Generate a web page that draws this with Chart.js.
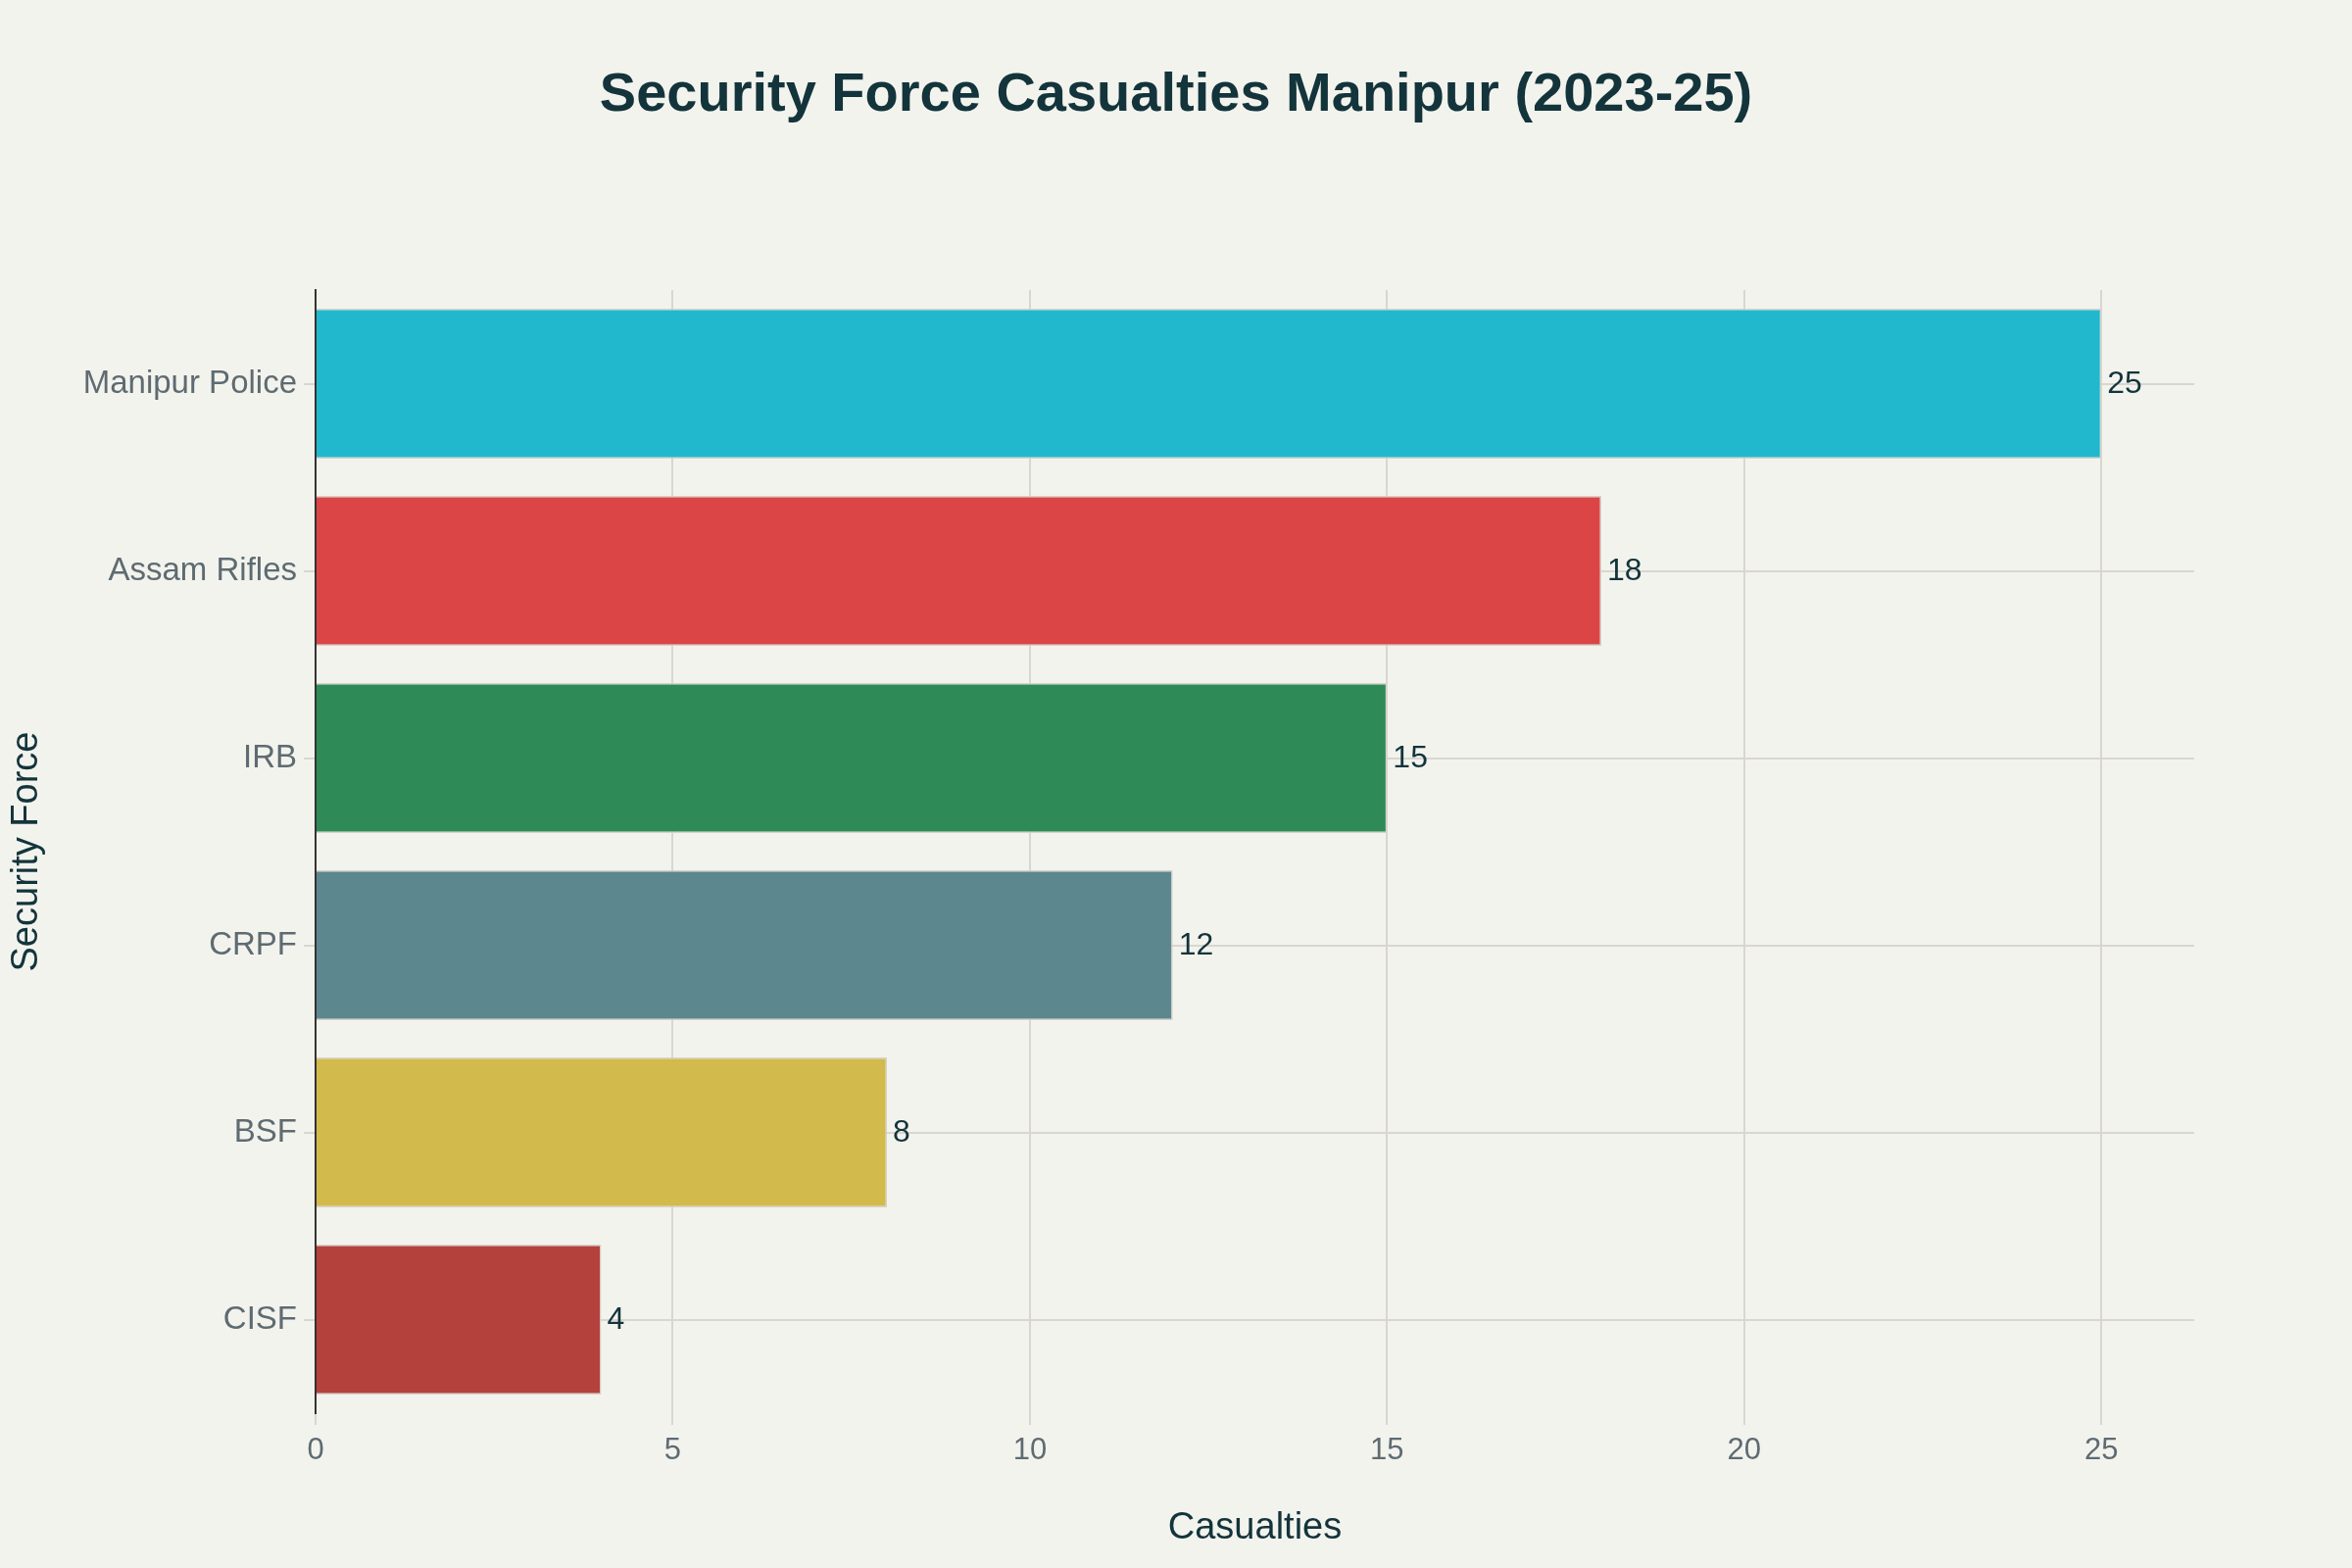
<!DOCTYPE html>
<html>
<head>
<meta charset="utf-8">
<script src="https://cdn.jsdelivr.net/npm/chart.js@4.4.1/dist/chart.umd.min.js"></script>
<style>
  html, body { margin: 0; padding: 0; background: #F3F3EE; }
  #wrap { width: 2400px; height: 1600px; }
</style>
</head>
<body>
<div id="wrap"><canvas id="chart" width="2400" height="1600"></canvas></div>
<script>
const FORCES = ['Manipur Police', 'Assam Rifles', 'IRB', 'CRPF', 'BSF', 'CISF'];
const CASUALTIES = [25, 18, 15, 12, 8, 4];
const BAR_COLORS = ['#21B8CD', '#DB4545', '#2E8B57', '#5D878F', '#D2BA4C', '#B4413C'];
const X_TICKS = [0, 5, 10, 15, 20, 25];
const TITLE = 'Security Force Casualties Manipur (2023-25)';

const FONT = '"Liberation Sans", Arial, Helvetica, sans-serif';
const DARK = '#13343B';
const GREY = '#5E6B71';
const GRID = '#D9D6D0';

// page background plus the title, centred on the whole canvas
const bgPlugin = {
  id: 'bg',
  beforeDraw(chart) {
    const { ctx, width, height } = chart;
    ctx.save();
    ctx.fillStyle = '#F3F3EE';
    ctx.fillRect(0, 0, width, height);
    ctx.font = `bold 56px ${FONT}`;
    ctx.fillStyle = DARK;
    ctx.textAlign = 'center';
    ctx.textBaseline = 'middle';
    ctx.fillText(TITLE, width / 2, 98);
    ctx.restore();
  }
};

// value labels just outside the bar ends
const valueLabels = {
  id: 'valueLabels',
  afterDatasetsDraw(chart) {
    const { ctx } = chart;
    const meta = chart.getDatasetMeta(0);
    ctx.save();
    ctx.font = `32px ${FONT}`;
    ctx.fillStyle = DARK;
    ctx.textAlign = 'left';
    ctx.textBaseline = 'middle';
    meta.data.forEach((bar, i) => {
      ctx.fillText(String(CASUALTIES[i]), bar.x + 6, bar.y + 1);
    });
    ctx.restore();
  }
};

new Chart(document.getElementById('chart'), {
  type: 'bar',
  data: {
    labels: FORCES,
    datasets: [{
      data: CASUALTIES,
      backgroundColor: BAR_COLORS,
      borderColor: '#D6D2CB',
      borderWidth: 1.5,
      borderSkipped: 'left',
      barPercentage: 0.8,
      categoryPercentage: 1.0,
    }]
  },
  options: {
    indexAxis: 'y',
    responsive: false,
    animation: false,
    devicePixelRatio: 1,
    layout: { padding: { top: 296, right: 161, bottom: 0, left: 0 } },
    plugins: {
      legend: { display: false },
      tooltip: { enabled: false },
      title: { display: false },
    },
    scales: {
      x: {
        type: 'linear',
        min: 0,
        max: 26.3,
        afterBuildTicks(scale) { scale.ticks = X_TICKS.map(v => ({ value: v })); },
        afterFit(scale) { scale.height = 158; },
        ticks: {
          color: GREY,
          font: { family: FONT, size: 31 },
          padding: 8,
        },
        grid: { color: GRID, lineWidth: 2, tickLength: 12 },
        border: { display: false },
        title: {
          display: true,
          text: 'Casualties',
          color: DARK,
          font: { family: FONT, size: 38 },
          padding: { top: 0, bottom: 18 },
        },
      },
      y: {
        type: 'category',
        afterFit(scale) { scale.width = 322; },
        ticks: {
          color: GREY,
          font: { family: FONT, size: 33 },
          padding: 7,
        },
        grid: { color: GRID, lineWidth: 2, tickLength: 12, offset: false },
        border: { display: true, color: '#333333', width: 2 },
        title: {
          display: true,
          text: 'Security Force',
          color: DARK,
          font: { family: FONT, size: 38 },
          padding: { top: 5, bottom: 0 },
        },
      },
    },
  },
  plugins: [bgPlugin, valueLabels],
});
</script>
</body>
</html>
